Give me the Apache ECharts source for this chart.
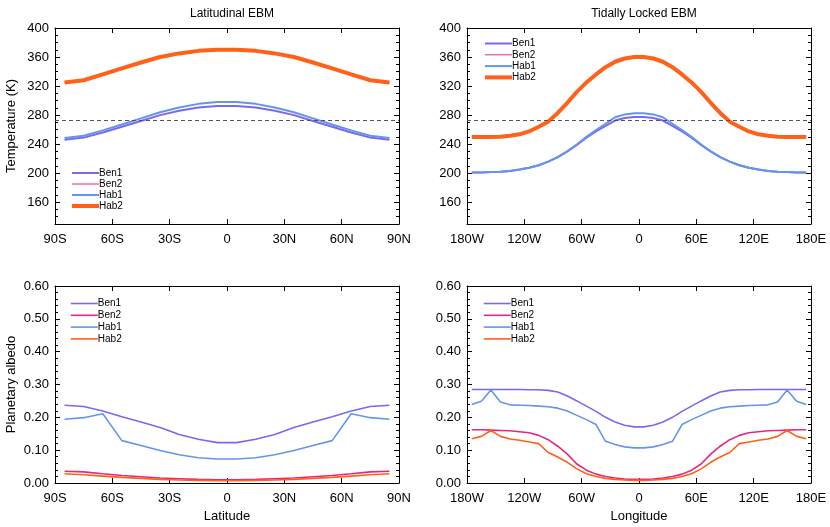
<!DOCTYPE html>
<html>
<head>
<meta charset="utf-8">
<script src="https://cdn.jsdelivr.net/npm/echarts@6/dist/echarts.min.js"></script>
<style>
  html, body { margin: 0; padding: 0; background: #fff; }
  #chart { width: 830px; height: 527px; }
</style>
</head>
<body>
<div id="chart"></div>
<script>
// grid centres
var lats = [-85, -75, -65, -55, -45, -35, -25, -15, -5, 5, 15, 25, 35, 45, 55, 65, 75, 85];
var lons = [-175, -165, -155, -145, -135, -125, -115, -105, -95, -85, -75, -65, -55, -45, -35, -25, -15, -5,
            5, 15, 25, 35, 45, 55, 65, 75, 85, 95, 105, 115, 125, 135, 145, 155, 165, 175];

// temperature (K), latitudinal EBM
var tLatBen1 = [246, 249, 256, 264, 272, 280, 286, 290.5, 292.5, 292.5, 290.5, 286, 280, 272, 264, 256, 249, 246];
var tLatBen2 = [325, 328, 336, 344.5, 352.5, 360, 365, 368.5, 370, 370, 368.5, 365, 360, 352.5, 344.5, 336, 328, 325];
var tLatHab1 = [248.5, 251.5, 259, 267, 275.5, 284, 290.5, 295.5, 298, 298, 295.5, 290.5, 284, 275.5, 267, 259, 251.5, 248.5];
var tLatHab2 = [325, 328, 336, 344.5, 352.5, 360, 365, 368.5, 370, 370, 368.5, 365, 360, 352.5, 344.5, 336, 328, 325];

// temperature (K), tidally locked EBM
var tLonBen1 = [201, 201, 201.5, 202, 203, 205, 207.5, 211, 216, 222, 230, 239, 249, 257.5, 265, 272.5, 276, 277.5,
                277.5, 276, 272.5, 265, 257.5, 249, 239, 230, 222, 216, 211, 207.5, 205, 203, 202, 201.5, 201, 201];
var tLonBen2 = [250, 250, 250, 250.3, 251.5, 253.5, 257.5, 264, 271, 283, 297, 312, 325, 336, 346, 353.5, 358, 360,
                360, 358, 353.5, 346, 336, 325, 312, 297, 283, 271, 264, 257.5, 253.5, 251.5, 250.3, 250, 250, 250];
var tLonHab1 = [201, 201, 201.5, 202, 203, 205, 207.5, 211, 216, 222, 230, 239.5, 250, 259.5, 268, 277, 281, 282.5,
                282.5, 281, 277, 268, 259.5, 250, 239.5, 230, 222, 216, 211, 207.5, 205, 203, 202, 201.5, 201, 201];
var tLonHab2 = [250, 250, 250, 250.3, 251.5, 253.5, 257.5, 264, 271, 283, 297, 312, 325, 336, 346, 353.5, 358, 360,
                360, 358, 353.5, 346, 336, 325, 312, 297, 283, 271, 264, 257.5, 253.5, 251.5, 250.3, 250, 250, 250];

// planetary albedo, latitudinal EBM
var aLatBen1 = [0.237, 0.233, 0.219, 0.202, 0.186, 0.169, 0.148, 0.133, 0.123, 0.123, 0.133, 0.148, 0.169, 0.186, 0.202, 0.219, 0.233, 0.237];
var aLatBen2 = [0.036, 0.034, 0.028, 0.023, 0.019, 0.015, 0.013, 0.011, 0.010, 0.010, 0.011, 0.013, 0.015, 0.019, 0.023, 0.028, 0.034, 0.036];
var aLatHab1 = [0.194, 0.199, 0.211, 0.129, 0.114, 0.099, 0.086, 0.077, 0.073, 0.073, 0.077, 0.086, 0.099, 0.114, 0.129, 0.211, 0.199, 0.194];
var aLatHab2 = [0.028, 0.025, 0.021, 0.017, 0.014, 0.011, 0.009, 0.008, 0.007, 0.007, 0.008, 0.009, 0.011, 0.014, 0.017, 0.021, 0.025, 0.028];

// planetary albedo, tidally locked EBM
var aLonBen1 = [0.285, 0.285, 0.285, 0.285, 0.285, 0.285, 0.284, 0.284, 0.282, 0.277, 0.265, 0.250, 0.234, 0.218, 0.200, 0.186, 0.176, 0.171,
                0.171, 0.176, 0.186, 0.200, 0.218, 0.234, 0.250, 0.265, 0.277, 0.282, 0.284, 0.284, 0.285, 0.285, 0.285, 0.285, 0.285, 0.285];
var aLonBen2 = [0.162, 0.162, 0.161, 0.160, 0.159, 0.156, 0.153, 0.145, 0.132, 0.112, 0.088, 0.058, 0.039, 0.027, 0.020, 0.015, 0.012, 0.011,
                0.011, 0.012, 0.015, 0.020, 0.027, 0.039, 0.058, 0.088, 0.112, 0.132, 0.145, 0.153, 0.156, 0.159, 0.160, 0.161, 0.162, 0.162];
var aLonHab1 = [0.239, 0.249, 0.283, 0.247, 0.238, 0.237, 0.236, 0.234, 0.232, 0.228, 0.219, 0.206, 0.193, 0.178, 0.127, 0.117, 0.110, 0.107,
                0.107, 0.110, 0.117, 0.127, 0.178, 0.193, 0.206, 0.219, 0.228, 0.232, 0.234, 0.236, 0.237, 0.238, 0.247, 0.283, 0.249, 0.239];
var aLonHab2 = [0.135, 0.142, 0.160, 0.142, 0.134, 0.130, 0.125, 0.120, 0.093, 0.079, 0.063, 0.043, 0.028, 0.020, 0.014, 0.011, 0.009, 0.008,
                0.008, 0.009, 0.011, 0.014, 0.020, 0.028, 0.043, 0.063, 0.079, 0.093, 0.120, 0.125, 0.130, 0.134, 0.142, 0.160, 0.142, 0.135];

var names = ['Ben1', 'Ben2', 'Hab1', 'Hab2'];
var colors = { Ben1: '#7b68ee', Ben2: '#e2287f', Hab1: '#6495ed', Hab2: '#ff6119' };
var tempTicks = [160, 200, 240, 280, 320, 360, 400];
var FONT = 'Liberation Sans';

function zip(xs, ys) {
    var out = [];
    for (var i = 0; i < xs.length; i++) out.push([xs[i], ys[i]]);
    return out;
}
function latFmt(v) { return v < 0 ? (-v) + 'S' : (v > 0 ? v + 'N' : '0'); }
function lonFmt(v) { return v < 0 ? (-v) + 'W' : (v > 0 ? v + 'E' : '0'); }

var grids = [
    { left: 55, top: 28, width: 344, height: 196 },
    { left: 467, top: 28, width: 344, height: 196 },
    { left: 55, top: 286, width: 344, height: 197 },
    { left: 467, top: 286, width: 344, height: 197 }
];

var lineBlack = { onZero: false, lineStyle: { color: '#000', width: 1 } };
var xAxes = [], yAxes = [];

// x axes: bottom with labels, top mirror
[0, 1, 2, 3].forEach(function (g) {
    var isLat = (g % 2 === 0);
    var xa = {
        type: 'value', gridIndex: g, position: 'bottom',
        min: isLat ? -90 : -180, max: isLat ? 90 : 180, interval: isLat ? 30 : 60,
        axisLine: lineBlack,
        axisTick: { inside: true, length: 5, lineStyle: { color: '#000' } },
        axisLabel: { color: '#000', fontFamily: FONT, fontSize: 13, margin: 9,
                     formatter: isLat ? latFmt : lonFmt },
        splitLine: { show: false }
    };
    if (g >= 2) {
        xa.name = isLat ? 'Latitude' : 'Longitude';
        xa.nameLocation = 'middle';
        xa.nameGap = 27;
        xa.nameTextStyle = { color: '#000', fontFamily: FONT, fontSize: 13 };
    }
    xAxes.push(xa);
    xAxes.push({
        type: 'value', gridIndex: g, position: 'top',
        min: xa.min, max: xa.max, interval: xa.interval,
        axisLine: lineBlack,
        axisTick: { inside: true, length: 5, lineStyle: { color: '#000' } },
        axisLabel: { show: false }, splitLine: { show: false }
    });
});

// y axes
var yIdx = {};
[0, 1, 2, 3].forEach(function (g) {
    var isTemp = g < 2;
    ['left', 'right'].forEach(function (pos) {
        var ya;
        if (isTemp) {
            ya = {
                type: 'value', gridIndex: g, position: pos, min: 130, max: 400,
                axisLine: lineBlack,
                axisTick: { inside: true, length: 5, customValues: tempTicks, lineStyle: { color: '#000' } },
                axisLabel: { show: pos === 'left', customValues: tempTicks, color: '#000',
                             fontFamily: FONT, fontSize: 13, margin: 6 },
                splitLine: { show: false }
            };
        } else {
            ya = {
                type: 'value', gridIndex: g, position: pos, min: 0, max: 0.6, interval: 0.1,
                axisLine: lineBlack,
                axisTick: { inside: true, length: 5, lineStyle: { color: '#000' } },
                minorTick: { show: true, splitNumber: 5, length: 3, lineStyle: { color: '#000' } },
                axisLabel: { show: pos === 'left', color: '#000', fontFamily: FONT, fontSize: 13, margin: 6,
                             formatter: function (v) { return v.toFixed(2); } },
                splitLine: { show: false }
            };
        }
        if (pos === 'left' && (g === 0 || g === 2)) {
            ya.name = isTemp ? 'Temperature (K)' : 'Planetary albedo';
            ya.nameLocation = 'middle';
            ya.nameGap = 37;
            ya.nameTextStyle = { color: '#000', fontFamily: FONT, fontSize: 13 };
        }
        if (pos === 'left') yIdx[g] = yAxes.length;
        yAxes.push(ya);
        if (isTemp) {
            // minor ticks every 10 K
            yAxes.push({
                type: 'value', gridIndex: g, position: pos, min: 130, max: 400, interval: 10,
                axisLine: { show: false, onZero: false },
                axisTick: { inside: true, length: 3, lineStyle: { color: '#000' } },
                axisLabel: { show: false }, splitLine: { show: false }
            });
        }
    });
});

var panels = [
    { g: 0, x: lats, ys: [tLatBen1, tLatBen2, tLatHab1, tLatHab2] },
    { g: 1, x: lons, ys: [tLonBen1, tLonBen2, tLonHab1, tLonHab2] },
    { g: 2, x: lats, ys: [aLatBen1, aLatBen2, aLatHab1, aLatHab2] },
    { g: 3, x: lons, ys: [aLonBen1, aLonBen2, aLonHab1, aLonHab2] }
];
var topWidths = { Ben1: 2, Ben2: 1, Hab1: 2, Hab2: 4 };

var series = [];
panels.forEach(function (p) {
    names.forEach(function (n, k) {
        var w = p.g < 2 ? topWidths[n] : 1.6;
        var s = {
            name: n, type: 'line', xAxisIndex: p.g * 2, yAxisIndex: yIdx[p.g],
            data: zip(p.x, p.ys[k]), symbol: 'none', smooth: false,
            lineStyle: { color: colors[n], width: w }, itemStyle: { color: colors[n] },
            animation: false
        };
        if (p.g < 2 && k === 0) {
            s.markLine = {
                silent: true, symbol: 'none', label: { show: false },
                lineStyle: { color: '#555', type: [4, 3], width: 1 },
                data: [{ yAxis: 273 }]
            };
        }
        series.push(s);
    });
});

function legendAt(left, top, gap, wide) {
    return {
        left: left, top: top, orient: 'vertical', padding: 0,
        itemWidth: 27, itemHeight: 11, itemGap: gap,
        textStyle: { color: '#000', fontFamily: FONT, fontSize: 10, padding: [0, 0, 0, -5] },
        selectedMode: false,
        data: names.map(function (n) {
            return { name: n,
                     itemStyle: { opacity: 0 },
                     lineStyle: { color: colors[n], width: wide ? topWidths[n] : 1.6, opacity: 1 } };
        })
    };
}

var chart = echarts.init(document.getElementById('chart'), null, { renderer: 'canvas' });
chart.setOption({
    backgroundColor: '#fff',
    animation: false,
    title: [
        { text: 'Latitudinal EBM', left: 227, top: 3, textAlign: 'center',
          textStyle: { fontFamily: FONT, fontSize: 12, fontWeight: 'normal', color: '#000' } },
        { text: 'Tidally Locked EBM', left: 639, top: 3, textAlign: 'center',
          textStyle: { fontFamily: FONT, fontSize: 12, fontWeight: 'normal', color: '#000' } }
    ],
    grid: grids,
    xAxis: xAxes,
    yAxis: yAxes,
    legend: [
        legendAt(70, 168, 1, true),
        legendAt(483, 38.5, 1.3, true),
        legendAt(70, 298.5, 1.8, false),
        legendAt(483, 298.5, 1.8, false)
    ],
    series: series
});
</script>
</body>
</html>
